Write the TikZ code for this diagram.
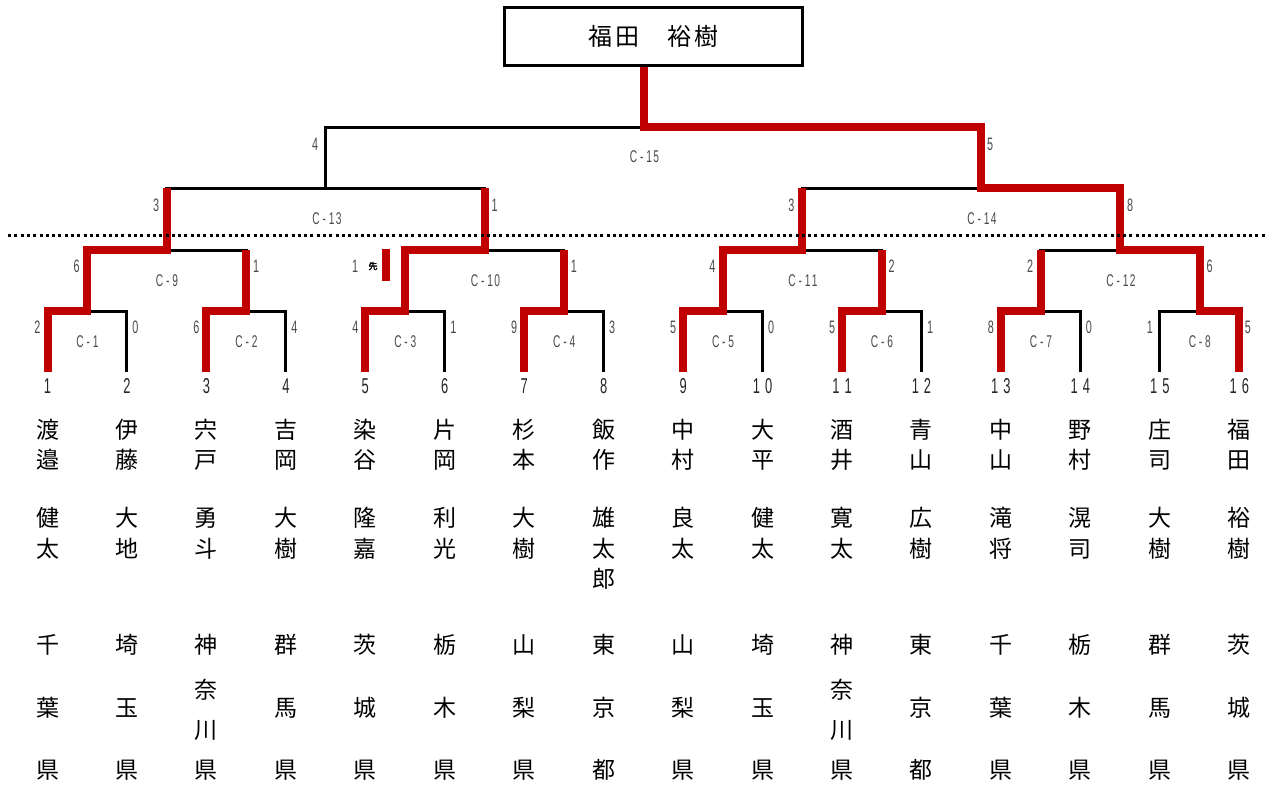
\documentclass[tikz,border=0pt]{standalone}
\usepackage{fontspec}
\newfontfamily\jp{Noto Sans CJK JP}
\newfontfamily\jpb[FakeBold=3]{Noto Sans CJK JP}
\newfontfamily\lab[FakeStretch=0.6]{Liberation Sans}
\definecolor{win}{HTML}{C00000}
\definecolor{labc}{HTML}{4A4A4A}
\tikzset{
 blk/.style={line width=3pt, line join=miter, draw=black},
 redl/.style={line width=8pt, draw=win, line join=miter},
 sc/.style={font=\lab\fontsize{18}{18}\selectfont, text=labc, anchor=base, inner sep=0pt},
 mlab/.style={font=\lab\fontsize{17}{17}\selectfont, text=labc, anchor=base, inner sep=0pt},
 num/.style={font=\lab\fontsize{21.5}{21.5}\selectfont, text=black!85, anchor=base, inner sep=0pt},
 ch/.style={font=\jp\fontsize{23}{23}\selectfont, inner sep=0pt, text height=20.24pt, text depth=2.76pt, anchor=center},
 dots/.style={line width=3pt, dash pattern=on 3pt off 3.3pt},
}
\begin{document}
\begin{tikzpicture}[x=1pt,y=-1pt]
\useasboundingbox (0,0) rectangle (1268,787);
% coordinates
\foreach \i/\x in {1/47.5,2/126.95,3/206.4,4/285.85,5/365.3,6/444.75,7/524.2,8/603.65,9/683.1,10/762.55,11/842.0,12/921.45,13/1000.9,14/1080.35,15/1159.8,16/1239.25}
  \coordinate (p\i) at (\x,372);
\foreach \k/\x in {1/87.2,2/246.1,3/405.0,4/563.9,5/722.8,6/881.7,7/1040.6,8/1199.5}
  \coordinate (m\k) at (\x,311);
\coordinate (n9) at (166.7,250);
\coordinate (n10) at (484.5,250);
\coordinate (n11) at (802.3,250);
\coordinate (n12) at (1120.1,250);
\coordinate (t13) at (325.6,188);
\coordinate (t14) at (981,188);
\coordinate (f) at (643.5,127);
\coordinate (dl) at (8,235);
\coordinate (dr) at (1268,235);
\coordinate (xa) at (386,249);
\coordinate (xb) at (386,281);
% black bracket
\draw[blk] (p1) |- (m1) -| (p2);
\draw[blk] (p3) |- (m2) -| (p4);
\draw[blk] (p5) |- (m3) -| (p6);
\draw[blk] (p7) |- (m4) -| (p8);
\draw[blk] (p9) |- (m5) -| (p10);
\draw[blk] (p11) |- (m6) -| (p12);
\draw[blk] (p13) |- (m7) -| (p14);
\draw[blk] (p15) |- (m8) -| (p16);
\draw[blk] (m1) |- (n9) -| (m2);
\draw[blk] (m3) |- (n10) -| (m4);
\draw[blk] (m5) |- (n11) -| (m6);
\draw[blk] (m7) |- (n12) -| (m8);
\draw[blk] (n9) |- (t13) -| (n10);
\draw[blk] (n11) |- (t14) -| (n12);
\draw[blk] (t13) |- (f) -| (t14);
% champion box
\node[draw, line width=3pt, minimum width=298pt, minimum height=57.5pt, inner sep=0pt,
      font=\jp\fontsize{24}{24}\selectfont] (champ) at (653.5,36.25)
      {福\kern2.5pt 田\kern2.5pt　\kern2.5pt 裕\kern2.5pt 樹};
% red winner paths
\draw[redl] (p1) |- (m1) |- (n9) -- (n9 |- t13);
\draw[redl] (p3) |- (m2) -- (m2 |- n9);
\draw[redl] (p5) |- (m3) |- (n10) -- (n10 |- t13);
\draw[redl] (p7) |- (m4) -- (m4 |- n10);
\draw[redl] (p9) |- (m5) |- (n11) -- (n11 |- t14);
\draw[redl] (p11) |- (m6) -- (m6 |- n11);
\draw[redl] (p13) |- (m7) -- (m7 |- n12);
\draw[redl] (p16) |- (m8) |- (n12) |- (t14) |- (f) -- (f |- champ.south);
\draw[redl] (xa) -- (xb);
% dotted line
\draw[dots] (dl) -- (dr);
% match labels
\foreach \k/\x in {1/87.5,2/246.4,3/405.3,4/564.2,5/723.1,6/882.0,7/1040.9,8/1199.8}
  \node[mlab] (c\k) at (\x,347) {C - \k};
\node[mlab] (c9) at (167,286) {C - 9};
\node[mlab] (c10) at (485.5,286) {C - 1\kern1.5pt 0};
\node[mlab] (c11) at (803,286) {C - 1\kern1.5pt 1};
\node[mlab] (c12) at (1121,286) {C - 1\kern1.5pt 2};
\node[mlab] (c13) at (327,224) {C - 1\kern1.5pt 3};
\node[mlab] (c14) at (982,224) {C - 1\kern1.5pt 4};
\node[mlab] (c15) at (644.5,162) {C - 1\kern1.5pt 5};
% round 1 scores
\foreach \n/\x/\s in {a1/37.5/2,b1/135.5/0,a2/196.4/6,b2/294.4/4,a3/355.3/4,b3/453.3/1,a4/514.2/9,b4/612.2/3,a5/673.1/5,b5/771.1/0,a6/832.0/5,b6/930.0/1,a7/990.9/8,b7/1088.9/0,a8/1149.8/1,b8/1247.8/5}
  \node[sc] (s\n) at (\x,333) {\s};
% round 2 scores
\foreach \n/\x/\s in {a9/76.7/6,b9/256.1/1,b10/573.9/1,a11/712.3/4,b11/891.7/2,a12/1030.1/2,b12/1209.5/6}
  \node[sc] (s\n) at (\x,272) {\s};
\node[sc] (sa10) at (355,272) {1};
\node[font=\jpb\fontsize{9}{9}\selectfont, inner sep=0pt] (sen) at (373,266) {先};
% round 3 scores
\node[sc] (sa13) at (156.2,211) {3};
\node[sc] (sb13) at (494.5,211) {1};
\node[sc] (sa14) at (791.3,211) {3};
\node[sc] (sb14) at (1130.1,211) {8};
% final scores
\node[sc] (sa15) at (315,150) {4};
\node[sc] (sb15) at (990,150) {5};
% player numbers
\foreach \i/\x/\t in {1/47.5/1,2/126.95/2,3/206.4/3,4/285.85/4,5/365.3/5,6/444.75/6,7/524.2/7,8/603.65/8,9/683.1/9,10/762.55/1\kern5pt 0,11/842.0/1\kern5pt 1,12/921.45/1\kern5pt 2,13/1000.9/1\kern5pt 3,14/1080.35/1\kern5pt 4,15/1159.8/1\kern5pt 5,16/1239.25/1\kern5pt 6}
  \node[num] (no\i) at (\x,393) {\t};
% names and prefectures
\foreach \i/\x/\sa/\sb/\ga/\gb/\pa/\pb/\pc in {
1/47.5/渡/邉/健/太/千/葉/県,
2/126.95/伊/藤/大/地/埼/玉/県,
3/206.4/宍/戸/勇/斗/神//県,
4/285.85/吉/岡/大/樹/群/馬/県,
5/365.3/染/谷/隆/嘉/茨/城/県,
6/444.75/片/岡/利/光/栃/木/県,
7/524.2/杉/本/大/樹/山/梨/県,
8/603.65/飯/作/雄/太/東/京/都,
9/683.1/中/村/良/太/山/梨/県,
10/762.55/大/平/健/太/埼/玉/県,
11/842.0/酒/井/寛/太/神//県,
12/921.45/青/山/広/樹/東/京/都,
13/1000.9/中/山/滝/将/千/葉/県,
14/1080.35/野/村/滉/司/栃/木/県,
15/1159.8/庄/司/大/樹/群/馬/県,
16/1239.25/福/田/裕/樹/茨/城/県}
{
  \node[ch] (sa\i) at (\x,430) {\sa};
  \node[ch] (sb\i) at (\x,460) {\sb};
  \node[ch] (ga\i) at (\x,518) {\ga};
  \node[ch] (gb\i) at (\x,549) {\gb};
  \node[ch] (pa\i) at (\x,645) {\pa};
  \node[ch] (pb\i) at (\x,708) {\pb};
  \node[ch] (pc\i) at (\x,770) {\pc};
}
\node[ch] (gc8) at (603.65,579) {郎};
\node[ch] (px3) at (206.4,690) {奈};
\node[ch] (py3) at (206.4,730) {川};
\node[ch] (px11) at (842.0,690) {奈};
\node[ch] (py11) at (842.0,730) {川};
\end{tikzpicture}
\end{document}
